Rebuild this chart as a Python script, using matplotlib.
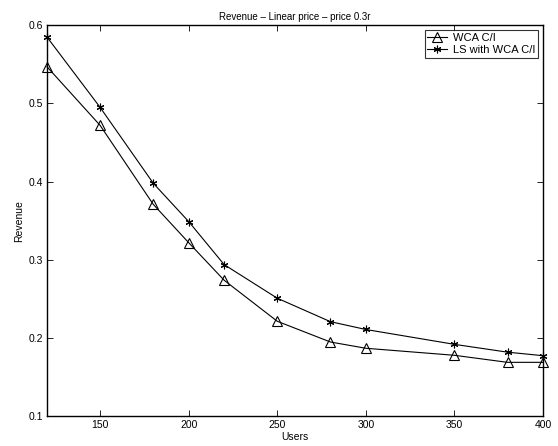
import matplotlib
matplotlib.use("Agg")
import matplotlib.pyplot as plt

users = [120, 150, 180, 200, 220, 250, 280, 300, 350, 380, 400]
wca = [0.547, 0.472, 0.371, 0.322, 0.274, 0.2215, 0.195, 0.187, 0.178, 0.169, 0.169]
ls_wca = [0.585, 0.495, 0.398, 0.349, 0.294, 0.251, 0.221, 0.211, 0.192, 0.182, 0.1775]
xticks = [150, 200, 250, 300, 350, 400]
yticks = [0.1, 0.2, 0.3, 0.4, 0.5, 0.6]

plt.rcParams['font.family'] = ['Liberation Sans', 'DejaVu Sans']
fig = plt.figure(figsize=(5.58, 4.46), dpi=100)
ax = fig.add_axes([0.0842, 0.0666, 0.8889, 0.8767])
ax.plot(users, wca, color='k', lw=0.8, marker='^', mfc='none', mec='k', ms=6.5, mew=0.8,
        label='WCA C/I', clip_on=False)
ax.plot(users, ls_wca, color='k', lw=0.8, marker=(6, 2, 0), ms=5.5, mew=0.8,
        label='LS with WCA C/I', clip_on=False)
ax.set_xlim(120, 400)
ax.set_ylim(0.1, 0.6)
ax.set_xticks(xticks)
ax.set_yticks(yticks)
ax.set_yticklabels([f"{v:g}" for v in yticks])
ax.tick_params(direction='in', top=True, right=True, labelsize=7.5, length=4, width=0.6, pad=3)
for s in ax.spines.values():
    s.set_linewidth(1.0)
ax.set_title('Revenue \u2013 Linear price \u2013 price 0.3r', fontsize=7, pad=4)
ax.set_xlabel('Users', fontsize=7.5, labelpad=1)
ax.set_ylabel('Revenue', fontsize=7.5, labelpad=3)
leg = ax.legend(loc='upper right', fontsize=8, frameon=True, fancybox=False, edgecolor='k',
                borderaxespad=0.45, handlelength=1.8, borderpad=0.25, labelspacing=0.15,
                handletextpad=0.5)
leg.get_frame().set_linewidth(0.8)
fig.savefig('out.png', dpi=100)
